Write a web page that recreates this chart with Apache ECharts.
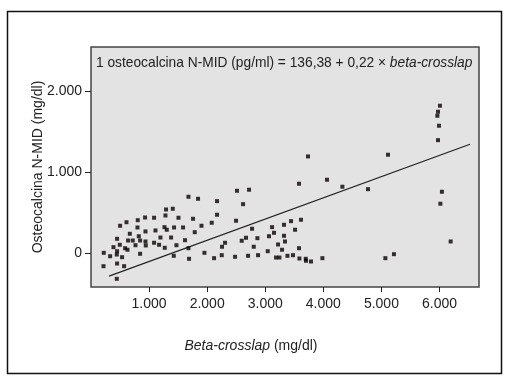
<!DOCTYPE html>
<html>
<head>
<meta charset="UTF-8">
<title></title>
<script src="https://cdn.jsdelivr.net/npm/echarts@6/dist/echarts.min.js"></script>
<style>
  html, body { margin: 0; padding: 0; background: #fff; }
</style>
</head>
<body>
<div id="main" style="width:513px;height:377px"></div>
<script>
// beta-crosslap (x) and osteocalcina N-MID (y)
var crosslap = [
  220, 215, 329, 387, 449, 449, 444, 449, 444, 501, 496, 535, 570, 587, 611, 628, 638, 668, 719, 766,
  805, 800, 823, 845, 845, 931, 938, 938, 943, 1086, 1110, 1086, 1172, 1196, 1265, 1270, 1292, 1282, 1305, 1379,
  1408, 1430, 1471, 1506, 1425, 1585, 1619, 1678, 1678, 1688, 1757, 1786, 1843, 1902, 1953, 2079, 2119, 2170, 2170, 2251,
  2256, 2308, 2480, 2497, 2514, 2595, 2618, 2721, 2669, 2704, 2773, 2802, 2865, 2876, 3043, 3065, 3117, 3151, 3186, 3244,
  3220, 3289, 3323, 3323, 3340, 3382, 3444, 3478, 3513, 3581, 3588, 3616, 3697, 3702, 3788, 3581, 3736, 3984, 4063, 4328,
  4769, 5113, 5068, 5216, 6008, 5974, 5963, 5991, 5974, 6042, 6015, 6192
];
var osteocalcina = [
  2, -163, -40, 72, 175, 22, -19, -130, -319, 336, 101, -52, -163, 59, 380, 40, 154, 237, 154, 96,
  405, 315, 207, 154, -10, 438, 266, 142, 93, 435, 278, 126, 101, 191, 319, 64, 537, 463, 287, 191,
  546, 315, 96, 435, -35, 315, 158, 694, 59, -72, 422, 257, 669, 336, 2, 373, -64, 640, 472, -27,
  77, 126, -47, 398, 768, 151, 603, 781, 188, -35, 299, 77, 183, -27, 22, 207, 319, 249, -56, -56,
  105, 40, 348, 212, 142, -35, 393, -27, 287, 59, -68, 410, -72, -96, -105, 855, 1192, -64, 904, 818,
  788, 1213, -64, -15, 1818, 1744, 1694, 1571, 1393, 756, 608, 142
];

// fitted line as drawn (two end points)
var lineX = [311, 6525];
var lineY = [-286, 1343];

var xTicks = [1000, 2000, 3000, 4000, 5000, 6000];
var yTicks = [0, 1000, 2000];

var points = crosslap.map(function(x, i) { return [x, osteocalcina[i]]; });
var linePts = lineX.map(function(x, i) { return [x, lineY[i]]; });

function fmt(v) {
  if (v === 0) return '0';
  return (v / 1000).toFixed(3);
}

var font = '"Liberation Sans", Arial, sans-serif';

var myChart = echarts.init(document.getElementById('main'));

var option = {
  animation: false,
  backgroundColor: '#fff',
  grid: {
    left: 91, top: 47, width: 388, height: 240,
    show: true,
    backgroundColor: '#e3e3e3',
    borderColor: '#444',
    borderWidth: 1.5
  },
  xAxis: {
    type: 'value',
    min: 0, max: 6680,
    axisLine: { show: false, onZero: false },
    splitLine: { show: false },
    axisTick: { show: true, length: 5, lineStyle: { color: '#222' }, customValues: xTicks },
    axisLabel: {
      customValues: xTicks,
      formatter: fmt,
      margin: 10,
      color: '#222', fontFamily: font, fontSize: 14
    }
  },
  yAxis: {
    type: 'value',
    min: -420, max: 2543,
    axisLine: { show: false, onZero: false },
    splitLine: { show: false },
    axisTick: { show: true, length: 6, lineStyle: { color: '#222' }, customValues: yTicks },
    axisLabel: {
      customValues: yTicks,
      formatter: fmt,
      margin: 9,
      color: '#222', fontFamily: font, fontSize: 14
    },
    name: 'Osteocalcina N-MID (mg/dl)',
    nameLocation: 'middle',
    nameGap: 46,
    nameMoveOverlap: false,
    nameTextStyle: { color: '#222', fontFamily: font, fontSize: 14 }
  },
  graphic: [
    {
      type: 'rect',
      shape: { x: 7.5, y: 11.5, width: 494, height: 362 },
      style: { fill: 'none', stroke: '#111', lineWidth: 1.5 },
      silent: true
    },
    {
      type: 'text',
      left: 96, top: 56,
      style: {
        text: '1 osteocalcina N-MID (pg/ml) = 136,38 + 0,22 × {i|beta-crosslap}',
        fill: '#222',
        font: '13.75px ' + font,
        rich: { i: { fontStyle: 'italic', fontSize: 13.75, fontFamily: font, fill: '#222' } }
      },
      z: 10
    },
    {
      type: 'text',
      x: 251, y: 346,
      style: {
        text: '{i|Beta-crosslap} (mg/dl)',
        fill: '#222',
        font: '14px ' + font,
        align: 'center',
        verticalAlign: 'middle',
        rich: { i: { fontStyle: 'italic', fontSize: 14, fontFamily: font, fill: '#222' } }
      }
    }
  ],
  series: [
    {
      name: 'puntos',
      type: 'scatter',
      symbol: 'rect',
      symbolSize: 4,
      itemStyle: { color: '#0a0000' },
      data: points,
      z: 3
    },
    {
      name: 'recta',
      type: 'line',
      symbol: 'none',
      lineStyle: { color: '#222', width: 1.2 },
      data: linePts,
      z: 2
    }
  ]
};

myChart.setOption(option);
</script>
</body>
</html>
